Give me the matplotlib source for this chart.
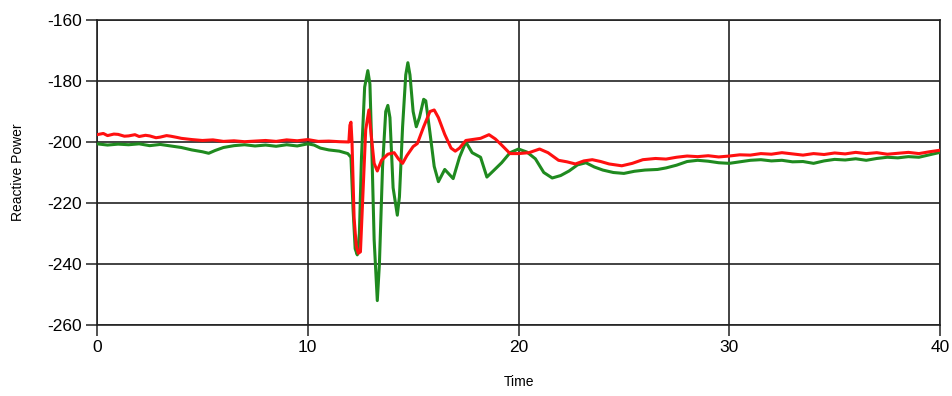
import matplotlib
matplotlib.use("Agg")
import matplotlib.pyplot as plt

# Reactive power traces sampled over time (s)
red_t = [0, 0.3, 0.5, 0.8, 1.0, 1.3, 1.5, 1.8, 2.0, 2.3, 2.5, 2.8, 3.0, 3.3, 3.5, 3.8,
         4.0, 4.5, 5.0, 5.5, 6.0, 6.5, 7.0, 7.5, 8.0, 8.5, 9.0, 9.5, 10.0, 10.5, 11.0,
         11.5, 11.95, 12.0, 12.05, 12.1, 12.2, 12.3, 12.4, 12.5, 12.6, 12.75, 12.9, 13.0,
         13.15, 13.3, 13.5, 13.8, 14.1, 14.3, 14.5, 14.7, 15.0, 15.2, 15.5, 15.8, 16.0,
         16.2, 16.5, 16.8, 17.0, 17.2, 17.5, 17.8, 18.2, 18.6, 18.9, 19.2, 19.6, 20.0,
         20.5, 21.0, 21.4, 21.9, 22.3, 22.7, 23.1, 23.5, 23.9, 24.3, 24.9, 25.4, 25.9,
         26.5, 27.0, 27.5, 28.0, 28.5, 29.0, 29.5, 30.0, 30.5, 31.0, 31.5, 32.0, 32.5,
         33.0, 33.5, 34.0, 34.5, 35.0, 35.5, 36.0, 36.5, 37.0, 37.5, 38.0, 38.5, 39.0,
         39.5, 40.0]
red_q = [-197.6, -197.2, -197.9, -197.4, -197.5, -198.1, -198.0, -197.6, -198.2, -197.8,
         -198.0, -198.6, -198.4, -197.9, -198.1, -198.5, -198.8, -199.2, -199.5, -199.3,
         -199.8, -199.6, -199.9, -199.7, -199.5, -199.8, -199.3, -199.6, -199.2, -199.8,
         -199.7, -199.9, -200.0, -194.5, -193.5, -200.0, -225.0, -234.0, -236.5, -236.0,
         -220.0, -196.0, -189.5, -197.0, -207.0, -209.5, -206.0, -204.0, -203.5, -205.5,
         -207.0, -204.5, -201.5, -200.5, -195.0, -190.0, -189.5, -192.0, -197.5, -202.0,
         -203.0, -202.0, -199.5, -199.2, -198.8, -197.6, -199.0, -201.0, -203.8, -203.8,
         -203.5, -202.3, -203.5, -206.0, -206.5, -207.2, -206.2, -205.8, -206.4, -207.2,
         -207.8, -207.0, -205.8, -205.4, -205.6, -205.0, -204.6, -204.8, -204.5, -204.9,
         -204.6, -204.2, -204.3, -203.8, -204.0, -203.5, -203.9, -204.3, -203.8, -204.1,
         -203.6, -203.9, -203.4, -203.8, -203.5, -204.0, -203.7, -203.4, -203.8, -203.2,
         -202.7]

green_t = [0, 0.5, 1.0, 1.5, 2.0, 2.5, 3.0, 3.5, 4.0, 4.5, 5.0, 5.3, 5.6, 6.0, 6.5, 7.0,
           7.5, 8.0, 8.5, 9.0, 9.5, 10.0, 10.3, 10.6, 11.0, 11.5, 11.9, 12.05, 12.15, 12.25,
           12.35, 12.45, 12.55, 12.7, 12.85, 12.95, 13.05, 13.15, 13.3, 13.4, 13.55, 13.7,
           13.8, 13.9, 14.05, 14.25, 14.35, 14.5, 14.65, 14.75, 14.85, 15.0, 15.15, 15.3,
           15.5, 15.6, 15.8, 16.0, 16.2, 16.5, 16.9, 17.2, 17.5, 17.8, 18.2, 18.5, 18.8,
           19.2, 19.6, 20.0, 20.4, 20.8, 21.2, 21.6, 22.0, 22.4, 22.8, 23.2, 23.6, 24.0,
           24.5, 25.0, 25.5, 26.0, 26.6, 27.0, 27.5, 28.0, 28.5, 29.0, 29.5, 30.0, 30.5,
           31.0, 31.5, 32.0, 32.5, 33.0, 33.5, 34.0, 34.5, 35.0, 35.5, 36.0, 36.5, 37.0,
           37.5, 38.0, 38.5, 39.0, 39.5, 40.0]
green_q = [-200.6, -201.0, -200.7, -200.9, -200.6, -201.2, -200.8, -201.3, -201.8, -202.6,
           -203.2, -203.7, -202.8, -201.8, -201.2, -200.9, -201.3, -201.0, -201.4, -200.9,
           -201.3, -200.6, -201.0, -202.0, -202.6, -203.0, -203.8, -205.0, -222.0, -235.0,
           -237.0, -230.0, -205.0, -182.0, -176.6, -181.0, -205.0, -232.0, -252.0, -240.0,
           -208.0, -190.0, -188.0, -192.0, -215.0, -224.0, -218.0, -195.0, -178.0, -174.0,
           -178.0, -190.0, -195.0, -192.0, -186.0, -186.5, -197.0, -208.0, -213.0, -209.0,
           -212.0, -205.0, -200.0, -203.5, -205.0, -211.5, -209.5, -206.8, -203.5, -202.3,
           -203.3, -205.5, -210.0, -211.8, -211.0, -209.5, -207.5, -206.8, -208.2, -209.2,
           -210.0, -210.3, -209.6, -209.2, -209.0, -208.5, -207.6, -206.4, -206.0, -206.3,
           -206.8, -207.0, -206.5, -206.0, -205.8, -206.2, -206.0, -206.5, -206.4, -207.0,
           -206.2, -205.7, -205.9, -205.5, -206.0, -205.4, -205.0, -205.2, -204.8, -205.0,
           -204.2, -203.4]

x_ticks = [0, 10, 20, 30, 40]
y_ticks = [-260, -240, -220, -200, -180, -160]

plt.rcParams["font.family"] = ["Liberation Sans", "DejaVu Sans"]
plt.rcParams["axes.unicode_minus"] = False

fig = plt.figure(figsize=(9.52, 3.96), dpi=100)
ax = fig.add_axes([97 / 952, 1 - 325 / 396, (940 - 97) / 952, (325 - 20) / 396])

ax.plot(green_t, green_q, color="#1f8a1f", linewidth=2.2, zorder=3)
ax.plot(red_t, red_q, color="#ff1010", linewidth=2.2, zorder=4)

ax.set_xlim(0, 40)
ax.set_ylim(-260, -160)
ax.set_xticks(x_ticks)
ax.set_yticks(y_ticks)
ax.tick_params(axis="both", direction="out", length=8, width=1.2, color="#333333",
               labelsize=12.5, pad=3)
ax.grid(True, color="#222222", linewidth=1.2)
ax.set_axisbelow(True)
for s in ax.spines.values():
    s.set_color("#222222")
    s.set_linewidth(1.2)

ax.set_xlabel("Time", fontsize=10, labelpad=14)
ax.set_ylabel("Reactive Power", fontsize=10, labelpad=16)

fig.savefig("out.png", dpi=100)
plt.close(fig)
